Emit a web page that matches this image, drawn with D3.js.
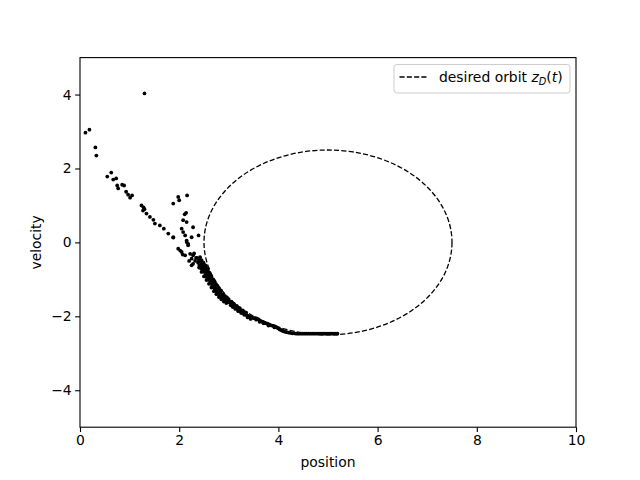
<!DOCTYPE html>
<html><head><meta charset="utf-8">
<script src="https://cdn.jsdelivr.net/npm/d3@7"></script>
<style>body{margin:0;background:#fff}text{font-family:"DejaVu Sans",sans-serif;}</style>
</head><body>
<svg id="c" width="640" height="480"></svg>
<script>
const xTicks = [0, 2, 4, 6, 8, 10];
const yTicks = [-4, -2, 0, 2, 4];
const orbitCenter = [5, 0];
const orbitRadius = 2.5;
const legendLabel = "desired orbit";
// scattered early states
const strayPoints = [
 [1.30,4.03],[0.11,2.97],[0.19,3.05],[0.31,2.57],[0.33,2.35],[0.63,1.89],[0.55,1.78],[0.67,1.70],[0.73,1.73],
 [0.75,1.54],[0.77,1.46],[0.85,1.56],[0.89,1.54],[0.93,1.37],[0.97,1.29],[1.01,1.21],[1.05,1.27],
 [1.24,1.00],[1.28,0.95],[1.30,0.90],[1.27,0.86],[1.34,0.78],[1.41,0.69],[1.48,0.61],[1.51,0.51],[1.61,0.46],
 [1.69,0.37],[1.78,0.24],[1.88,0.13],[1.88,1.05],[1.98,1.23],[2.00,1.14],[2.16,1.27],
 [2.14,0.80],[2.11,0.76],[2.08,0.60],[2.15,0.55],[2.28,0.41],[2.05,0.37],[2.08,0.28],[2.12,0.19],[1.88,0.14],
 [2.25,0.14],[2.39,0.19],[2.15,0.05],[2.18,-0.04],[2.15,0.01],[2.18,-0.08],[1.98,-0.17],[2.02,-0.22],
 [2.05,-0.26],[2.07,-0.33],[2.22,-0.31],[2.12,-0.35],[2.28,-0.35],[2.25,-0.44],[2.32,-0.50],[2.28,-0.58],[2.25,-0.62],
 [2.30,-0.30],[2.34,-0.42],[2.20,-0.50]
];
// dense converging trajectory
const bandPoints = [
 [2.36,-0.42],[2.38,-0.55],[2.40,-0.48],[2.41,-0.62],[2.43,-0.52],[2.44,-0.70],[2.46,-0.58],[2.47,-0.75],[2.48,-0.65],
 [2.50,-0.60],[2.50,-0.80],[2.52,-0.70],[2.53,-0.88],[2.54,-0.76],[2.56,-0.95],[2.57,-0.82],[2.58,-0.72],[2.60,-0.90],
 [2.60,-1.02],[2.62,-0.96],[2.63,-1.10],[2.64,-0.98],[2.66,-1.05],[2.67,-1.16],[2.68,-1.08],[2.70,-1.22],[2.71,-1.12],
 [2.72,-1.28],[2.74,-1.20],[2.75,-1.32],[2.77,-1.26],[2.78,-1.38],[2.80,-1.32],[2.81,-1.42],[2.83,-1.37],[2.85,-1.47],
 [2.86,-1.41],[2.88,-1.50],[2.90,-1.46],[2.92,-1.54],[2.94,-1.51],[2.96,-1.58],[2.98,-1.55],[3.00,-1.62],
 [2.42,-0.40],[2.45,-0.48],[2.49,-0.55],[2.53,-0.62],[2.55,-0.68],[2.59,-0.80],[2.62,-0.86],[2.65,-0.92],[2.68,-1.00],
 [2.71,-1.05],[2.74,-1.12],[2.77,-1.18],[2.80,-1.24],[2.84,-1.30],[2.88,-1.40],[2.92,-1.45],[2.96,-1.50],[3.00,-1.56],
 [2.40,-0.68],[2.45,-0.80],[2.50,-0.92],[2.55,-1.02],[2.60,-1.12],[2.65,-1.22],[2.70,-1.32],[2.75,-1.40],[2.80,-1.48],
 [2.85,-1.54],[2.90,-1.60],[2.95,-1.64],
 [2.44,-0.60],[2.48,-0.72],[2.51,-0.78],[2.55,-0.86],[2.58,-0.92],[2.61,-0.98],[2.64,-1.06],[2.67,-1.10],[2.70,-1.16],
 [2.73,-1.24],[2.76,-1.30],[2.79,-1.34],[2.82,-1.38],[2.86,-1.44],[2.89,-1.48],[2.93,-1.52],[2.97,-1.56],
 [3.03,-1.63],[3.05,-1.60],[3.06,-1.68],[3.09,-1.70],[3.10,-1.66],[3.12,-1.75],[3.15,-1.76],[3.16,-1.72],[3.18,-1.81],
 [3.21,-1.82],[3.22,-1.78],[3.24,-1.87],[3.27,-1.88],[3.28,-1.84],[3.30,-1.92],[3.33,-1.94],[3.35,-1.90],[3.36,-1.97],
 [3.04,-1.70],[3.08,-1.75],[3.13,-1.80],[3.19,-1.86],[3.25,-1.91],[3.31,-1.96],[3.38,-2.03],[3.44,-2.07],
 [3.07,-1.65],[3.11,-1.70],[3.14,-1.73],[3.17,-1.77],[3.20,-1.79],[3.23,-1.83],[3.26,-1.85],[3.29,-1.88],[3.32,-1.91],
 [3.39,-1.99],[3.42,-2.01],[3.45,-2.03],[3.48,-2.04],[3.51,-2.05],[3.54,-2.05],[3.57,-2.06],[3.60,-2.08],[3.63,-2.12],
 [3.55,-2.09],[3.62,-2.15],[3.70,-2.19],[3.80,-2.25],[3.92,-2.30],
 [3.66,-2.14],[3.69,-2.15],[3.72,-2.17],[3.75,-2.19],[3.78,-2.20],[3.81,-2.22],[3.84,-2.24],[3.87,-2.25],[3.90,-2.26],
 [3.93,-2.27],[3.96,-2.29],[3.99,-2.32],[4.02,-2.35],[4.05,-2.37],[4.08,-2.39],[4.11,-2.41],[4.14,-2.42],[4.17,-2.43],
 [4.20,-2.44],[4.24,-2.45],[4.28,-2.46],[4.32,-2.46],[4.36,-2.47],[4.40,-2.47],[4.44,-2.47],[4.48,-2.47],[4.52,-2.47],
 [4.56,-2.47],[4.60,-2.47],[4.64,-2.47],[4.68,-2.47],[4.72,-2.47],[4.76,-2.47],[4.80,-2.47],[4.84,-2.47],[4.88,-2.47],
 [4.92,-2.47],[4.96,-2.47],[5.00,-2.47],[5.04,-2.47],[5.08,-2.47],[5.12,-2.47],[5.16,-2.47],[5.19,-2.47]
];

const svg = d3.select("#c");
const L = 80, R = 576, T = 57.6, B = 427.2;
const x = d3.scaleLinear().domain([0, 10]).range([L, R]);
const y = d3.scaleLinear().domain([-5, 5]).range([B, T]);
const dash = "5.1,2.2";

// orbit
svg.append("ellipse")
  .attr("cx", x(orbitCenter[0])).attr("cy", y(orbitCenter[1]))
  .attr("rx", x(orbitCenter[0] + orbitRadius) - x(orbitCenter[0]))
  .attr("ry", y(orbitCenter[1]) - y(orbitCenter[1] + orbitRadius))
  .attr("fill", "none").attr("stroke", "#000").attr("stroke-width", 1.3)
  .attr("stroke-dasharray", dash);

// points
svg.append("g").selectAll("circle").data(strayPoints.concat(bandPoints)).join("circle")
  .attr("cx", d => x(d[0])).attr("cy", d => y(d[1])).attr("r", 1.9).attr("fill", "#000");

// axes
const fs = "13.9px";
const gx = svg.append("g").attr("transform", `translate(0,${B})`)
  .call(d3.axisBottom(x).tickValues(xTicks).tickSize(4.86).tickPadding(3.5).tickFormat(d3.format("d")));
const gy = svg.append("g").attr("transform", `translate(${L},0)`)
  .call(d3.axisLeft(y).tickValues(yTicks).tickSize(4.86).tickPadding(3.5).tickFormat(d => d < 0 ? "\u2212" + Math.abs(d) : d));
[gx, gy].forEach(g => {
  g.select(".domain").remove();
  g.selectAll("text").style("font-size", fs).attr("fill", "#000").style("font-family", "DejaVu Sans");
  g.selectAll("line").attr("stroke", "#000").attr("stroke-width", 1.1);
});
svg.append("rect").attr("x", L).attr("y", T).attr("width", R - L).attr("height", B - T)
  .attr("fill", "none").attr("stroke", "#000").attr("stroke-width", 1.1);

svg.append("text").attr("x", (L + R) / 2).attr("y", 467).attr("text-anchor", "middle")
  .style("font-size", fs).text("position");
svg.append("text").attr("transform", `translate(41,${(T + B) / 2}) rotate(-90)`).attr("text-anchor", "middle")
  .style("font-size", fs).text("velocity");

// legend
const lg = svg.append("g");
lg.append("rect").attr("x", 394).attr("y", 64.5).attr("width", 176).attr("height", 28.5).attr("rx", 2.8)
  .attr("fill", "#fff").attr("fill-opacity", 0.8).attr("stroke", "#ccc").attr("stroke-width", 1);
lg.append("line").attr("x1", 399.5).attr("x2", 427.3).attr("y1", 77).attr("y2", 77)
  .attr("stroke", "#000").attr("stroke-width", 1.3).attr("stroke-dasharray", dash);
const t = lg.append("text").attr("x", 439).attr("y", 82).style("font-size", fs);
t.append("tspan").text(legendLabel + " ");
t.append("tspan").attr("font-style", "italic").text("z");
t.append("tspan").attr("font-style", "italic").attr("dy", 2.5).style("font-size", "9.8px").text("D");
t.append("tspan").attr("dy", -2.5).text("(");
t.append("tspan").attr("font-style", "italic").text("t");
t.append("tspan").text(")");
</script>
</body></html>
